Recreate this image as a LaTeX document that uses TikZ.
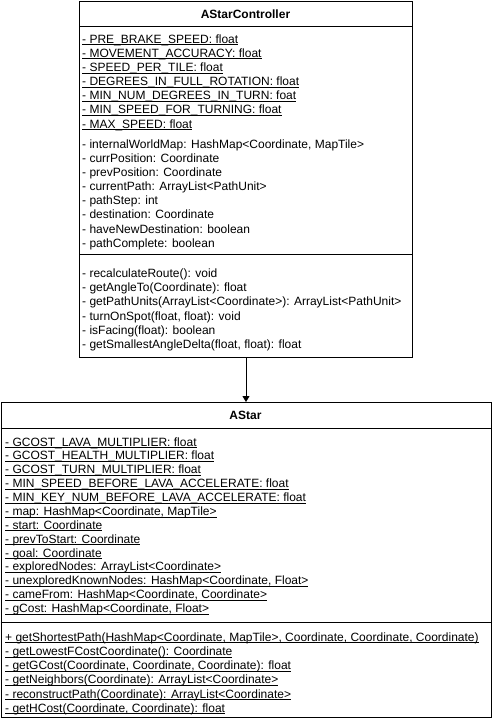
\documentclass[tikz,border=0pt]{standalone}
\usepackage{fontspec}
\setmainfont{Liberation Sans}
\usetikzlibrary{arrows.meta}
\newcommand\ulx[1]{\setbox0=\hbox{#1}\rlap{\rule[-1.8pt]{\wd0}{0.7pt}}\box0}
\tikzset{
  umlbox/.style={draw=black, line width=1pt, inner sep=0pt, anchor=north west},
  divider/.style={draw=black, line width=1pt},
  member/.style={anchor=base west, inner sep=0pt, font=\fontsize{12}{14}\selectfont},
  umltitle/.style={inner sep=0pt, font=\fontsize{12}{14}\selectfont\bfseries},
  assoc/.style={draw=black, line width=1pt, -{Triangle[length=6pt,width=7pt]}}
}
\begin{document}
\begin{tikzpicture}[x=1pt,y=-1pt]
\useasboundingbox (0,0) rectangle (491,725);
% AStarController
\node[umlbox, minimum width=333pt, minimum height=356pt] (ctrl) at (79,1) {};
\node[umltitle] (ctrltitle) at (245.5,14.5) {AStarController};
\draw[divider] (ctrl.west |- 0,27) -- (ctrl.east |- 0,27);
\draw[divider] (ctrl.west |- 0,254.5) -- (ctrl.east |- 0,254.5);
\foreach \t [count=\i] in {
  {- PRE\_BRAKE\_SPEED: float},
  {- MOVEMENT\_ACCURACY: float},
  {- SPEED\_PER\_TILE: float},
  {- DEGREES\_IN\_FULL\_ROTATION: float},
  {- MIN\_NUM\_DEGREES\_IN\_TURN: foat},
  {- MIN\_SPEED\_FOR\_TURNING: float},
  {- MAX\_SPEED: float}}
  \node[member] (cs\i) at (82,{43.2+(\i-1)*14.15}) {\ulx{\t}};
\foreach \t [count=\i] in {
  {- internalWorldMap: HashMap<Coordinate, MapTile>},
  {- currPosition: Coordinate},
  {- prevPosition: Coordinate},
  {- currentPath: ArrayList<PathUnit>},
  {- pathStep: int},
  {- destination: Coordinate},
  {- haveNewDestination: boolean},
  {- pathComplete: boolean}}
  \node[member] (ca\i) at (82,{148.2+(\i-1)*14.15}) {\t};
\foreach \t [count=\i] in {
  {- recalculateRoute(): void},
  {- getAngleTo(Coordinate): float},
  {- getPathUnits(ArrayList<Coordinate>): ArrayList<PathUnit>},
  {- turnOnSpot(float, float): void},
  {- isFacing(float): boolean},
  {- getSmallestAngleDelta(float, float): float}}
  \node[member] (cm\i) at (82,{277.5+(\i-1)*14.2}) {\t};
% AStar
\node[umlbox, minimum width=490pt, minimum height=315pt] (astar) at (0.5,402) {};
\node[umltitle] (astartitle) at (245.5,415.5) {AStar};
\draw[divider] (astar.west |- 0,428) -- (astar.east |- 0,428);
\draw[divider] (astar.west |- 0,622) -- (astar.east |- 0,622);
\foreach \t [count=\i] in {
  {- GCOST\_LAVA\_MULTIPLIER: float},
  {- GCOST\_HEALTH\_MULTIPLIER: float},
  {- GCOST\_TURN\_MULTIPLIER: float},
  {- MIN\_SPEED\_BEFORE\_LAVA\_ACCELERATE: float},
  {- MIN\_KEY\_NUM\_BEFORE\_LAVA\_ACCELERATE: float},
  {- map: HashMap<Coordinate, MapTile>},
  {- start: Coordinate},
  {- prevToStart: Coordinate},
  {- goal: Coordinate},
  {- exploredNodes: ArrayList<Coordinate>},
  {- unexploredKnownNodes: HashMap<Coordinate, Float>},
  {- cameFrom: HashMap<Coordinate, Coordinate>},
  {- gCost: HashMap<Coordinate, Float>}}
  \node[member] (aa\i) at (5,{446+(\i-1)*13.88}) {\ulx{\t}};
\foreach \t [count=\i] in {
  {+ getShortestPath(HashMap<Coordinate, MapTile>, Coordinate, Coordinate, Coordinate)},
  {- getLowestFCostCoordinate(): Coordinate},
  {- getGCost(Coordinate, Coordinate, Coordinate): float},
  {- getNeighbors(Coordinate): ArrayList<Coordinate>},
  {- reconstructPath(Coordinate): ArrayList<Coordinate>},
  {- getHCost(Coordinate, Coordinate): float}}
  \node[member] (am\i) at (5,{641.3+(\i-1)*14.2}) {\ulx{\t}};
% association
\draw[assoc] (ctrl.south) -- (astar.north);
\end{tikzpicture}
\end{document}
